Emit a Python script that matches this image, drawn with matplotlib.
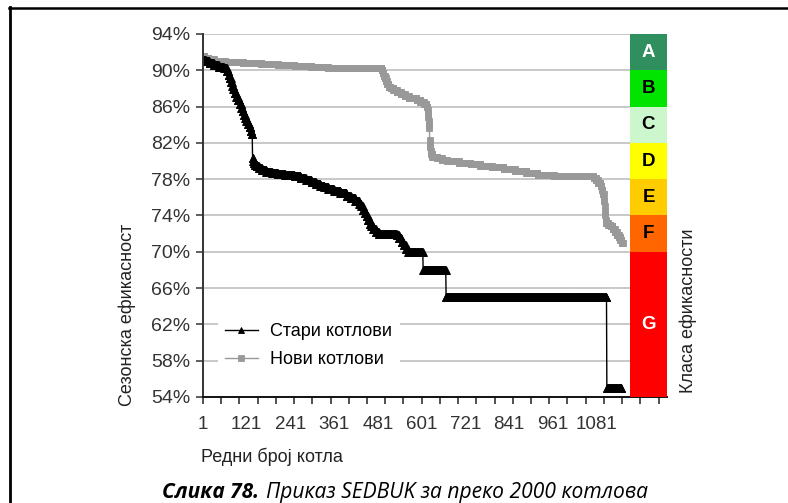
import numpy as np
import matplotlib
matplotlib.use("Agg")
import matplotlib.pyplot as plt
from matplotlib.lines import Line2D
from matplotlib.patches import Rectangle
from matplotlib.ticker import FixedLocator, FixedFormatter
import matplotlib.transforms as mtransforms

# Seasonal efficiency (%) and number of boilers at each value, sorted from best to worst
old_eff = [91.1, 91.0, 90.8, 90.6, 90.4, 90.2, 89.9, 89.5, 89.1, 88.7, 88.3, 87.9,
           87.5, 87.1, 86.7, 86.3, 85.9, 85.5, 85.1, 84.7, 84.4, 84.1, 83.7, 83.3,
           83.0, 80.3, 80.0, 79.8, 79.6, 79.4, 79.2, 79.0, 78.8, 78.7, 78.6, 78.5,
           78.3, 78.1, 77.9, 77.7, 77.5, 77.3, 77.1, 76.9, 76.7, 76.5, 76.2, 75.9,
           75.6, 75.3, 75.0, 74.6, 74.3, 73.9, 73.5, 73.1, 72.8, 72.5, 72.2, 72.0,
           71.8, 71.5, 71.1, 70.7, 70.3, 70.0, 68.0, 65.0, 55.0]
old_count = [8, 10, 12, 14, 14, 8, 4, 3, 4, 3, 3, 4,
             4, 5, 5, 4, 4, 3, 4, 3, 4, 5, 3, 3,
             2, 2, 2, 3, 5, 6, 8, 12, 16, 16, 20, 26,
             16, 15, 15, 12, 12, 11, 11, 16, 17, 17, 12, 12,
             11, 5, 5, 5, 5, 4, 5, 4, 5, 8, 8, 49,
             6, 7, 6, 6, 6, 41, 63, 441, 41]

new_eff = [91.6, 91.4, 91.2, 91.0, 90.9, 90.8, 90.7, 90.6, 90.5, 90.4, 90.3, 90.2,
           90.0, 89.7, 89.4, 89.1, 88.8, 88.5, 88.2, 88.0, 87.8, 87.6, 87.4, 87.2,
           87.0, 86.9, 86.7, 86.5, 86.3, 86.0, 85.6, 85.2, 84.8, 84.4, 84.0, 83.6,
           82.3, 81.9, 81.5, 81.1, 80.8, 80.5, 80.3, 80.1, 80.0, 79.8, 79.7, 79.5,
           79.3, 79.1, 78.9, 78.7, 78.5, 78.4, 78.3, 78.1, 77.9, 77.6, 77.2, 76.8,
           76.4, 75.6, 75.0, 74.5, 74.0, 73.5, 73.2, 73.0, 72.8, 72.5, 72.2, 71.9,
           71.6, 71.3, 71.0]
new_count = [5, 10, 15, 30, 50, 50, 46, 46, 45, 46, 46, 101,
             3, 3, 3, 3, 3, 4, 6, 7, 10, 11, 11, 11,
             11, 10, 10, 10, 8, 2, 1, 1, 1, 1, 1, 1,
             1, 1, 1, 1, 3, 13, 14, 14, 32, 32, 27, 32,
             32, 31, 31, 31, 45, 46, 63, 6, 6, 7, 3, 3,
             3, 2, 1, 1, 1, 1, 6, 6, 6, 6, 6, 5,
             4, 4, 3]

series_names = ["Стари котлови", "Нови котлови"]

y_ticks = [54, 58, 62, 66, 70, 74, 78, 82, 86, 90, 94]
x_tick_labels = [1, 121, 241, 361, 481, 601, 721, 841, 961, 1081]
x_tick_marks = list(range(1, 1252, 50))

# SEDBUK efficiency bands
class_labels = ["A", "B", "C", "D", "E", "F", "G"]
class_upper = [94, 90, 86, 82, 78, 74, 70]
class_lower = [90, 86, 82, 78, 74, 70, 54]
class_colors = ["#2f8f5f", "#00e400", "#ccf7cc", "#ffff00", "#ffcc00", "#ff6600", "#ff0000"]
class_text_colors = ["white", "black", "black", "black", "black", "black", "white"]

plt.rcParams["font.family"] = ["Liberation Sans", "DejaVu Sans"]

W, H = 788, 503
fig = plt.figure(figsize=(W / 100, H / 100), dpi=100)
fig.patch.set_facecolor("white")

# plot area in pixel terms
px_left, px_right, px_top, px_bottom = 203, 667, 34, 397
ax = fig.add_axes([px_left / W, 1 - px_bottom / H,
                   (px_right - px_left) / W, (px_bottom - px_top) / H])

old_vals = np.repeat(old_eff, old_count)
new_vals = np.repeat(new_eff, new_count)
old_x = np.arange(1, len(old_vals) + 1)
new_x = np.arange(1, len(new_vals) + 1)

l_new, = ax.plot(new_x, new_vals, color="#999999", lw=1.0, marker="s", ms=4.6,
                 mew=0.6, mec="#999999", mfc="#999999", zorder=2, label=series_names[1])
l_old, = ax.plot(old_x, old_vals, color="black", lw=1.0, marker="^", ms=5.4,
                 mew=0.6, mec="black", mfc="black", zorder=2.5, label=series_names[0])

x_max = 1274
ax.set_xlim(1, x_max)
ax.set_ylim(54, 94)

# efficiency class bar at the right end of the plot area
bar_x0 = (630 - px_left) / (px_right - px_left)
blend = mtransforms.blended_transform_factory(ax.transAxes, ax.transData)
for lab, up, lo, col, tcol in zip(class_labels, class_upper, class_lower,
                                  class_colors, class_text_colors):
    ax.add_patch(Rectangle((bar_x0, lo), 1 - bar_x0, up - lo, transform=blend,
                           facecolor=col, edgecolor="none", zorder=3, clip_on=False))
    ax.text((bar_x0 + 1) / 2, (up + lo) / 2, lab, transform=blend, ha="center",
            va="center", fontsize=13.5, fontweight="bold", color=tcol, zorder=4)

# axes styling
ax.set_yticks(y_ticks)
ax.set_yticklabels([f"{v}%" for v in y_ticks])
ax.yaxis.grid(True, color="#c4c4c4", lw=1.3)
ax.set_axisbelow(True)
for s in ("top", "right"):
    ax.spines[s].set_visible(False)
ax.spines["left"].set_color("#333333")
ax.spines["left"].set_linewidth(1.4)
ax.spines["bottom"].set_color("#111111")
ax.spines["bottom"].set_linewidth(1.4)

ax.xaxis.remove_overlapping_locs = False
ax.xaxis.set_major_locator(FixedLocator(x_tick_labels))
ax.xaxis.set_major_formatter(FixedFormatter([str(v) for v in x_tick_labels]))
ax.xaxis.set_minor_locator(FixedLocator(x_tick_marks))
ax.tick_params(axis="x", which="major", length=0, pad=14, labelsize=13.5,
               labelcolor="#333333")
ax.tick_params(axis="x", which="minor", length=5, width=1.1, color="#222222",
               direction="out")
ax.tick_params(axis="y", which="major", length=5, width=1.1, color="#333333",
               direction="out", pad=4, labelsize=14, labelcolor="#333333")

ax.set_xlabel("Редни број котла", fontsize=13, color="#222222")
ax.xaxis.set_label_coords((272 - px_left) / (px_right - px_left),
                          -(457 - px_bottom) / (px_bottom - px_top))
ax.xaxis.label.set_va("center")
ax.set_ylabel("Сезонска ефикасност", fontsize=13, color="#222222")
ax.yaxis.set_label_coords((127 - px_left) / (px_right - px_left),
                          (px_bottom - 315) / (px_bottom - px_top))
ax.yaxis.label.set_va("center")

fig.text(688 / W, 1 - 311 / H, "Класа ефикасности", rotation=90, ha="center",
         va="center", fontsize=13, color="#222222")

leg = ax.legend([l_old, l_new], series_names, loc="upper left",
                bbox_to_anchor=(218 / W, 1 - 316 / H), bbox_transform=fig.transFigure,
                frameon=True, facecolor="white", edgecolor="none", framealpha=1,
                fontsize=13, handlelength=1.8, handletextpad=0.7, labelspacing=0.6,
                borderpad=0.4, borderaxespad=0, numpoints=1, fancybox=False,
                markerscale=0.85)
leg.set_zorder(5)

# frame lines of the figure panel
fig.add_artist(Line2D([9 / W, 1], [1 - 8 / H, 1 - 8 / H], transform=fig.transFigure,
                      color="black", lw=1.8))
fig.add_artist(Line2D([10 / W, 10 / W], [0, 1 - 7 / H], transform=fig.transFigure,
                      color="black", lw=2.0))

# caption: bold-italic figure number followed by italic description
cap_font = ["Open Sans", "DejaVu Sans"]
renderer = fig.canvas.get_renderer()
cap1 = fig.text(162 / W, 1 - 498 / H, "Слика 78.", family=cap_font, fontsize=15,
                style="italic", weight="bold", ha="left", va="baseline")
bb = cap1.get_window_extent(renderer=renderer)
fig.text(bb.x1 / fig.bbox.width + 7 / W, 1 - 498 / H,
         "Приказ SEDBUK за преко 2000 котлова", family=cap_font, fontsize=15.1,
         style="italic", ha="left", va="baseline")

fig.savefig("out.png", dpi=100)
